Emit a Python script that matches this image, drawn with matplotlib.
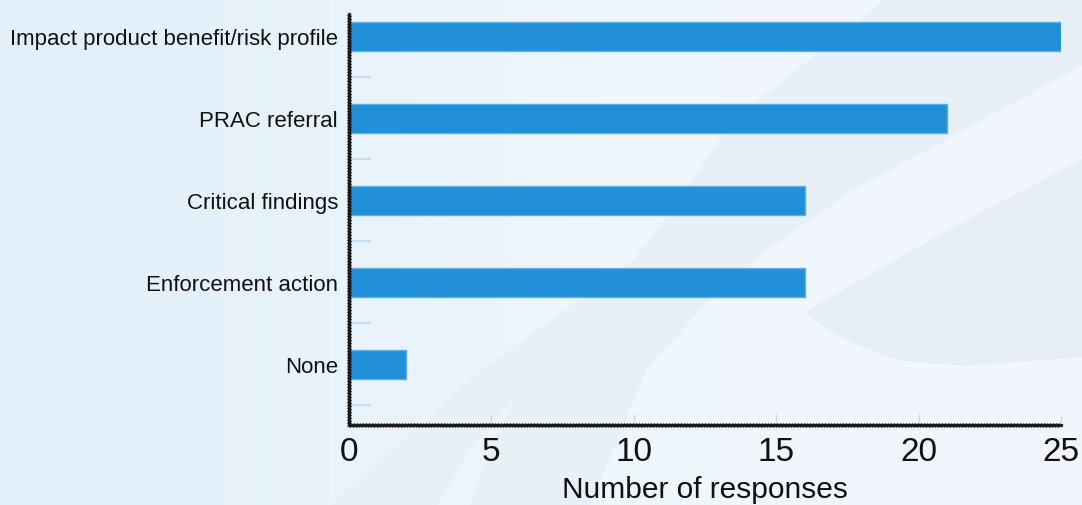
import numpy as np
import matplotlib
matplotlib.use("Agg")
import matplotlib.pyplot as plt
from matplotlib.patches import Polygon
from matplotlib.colors import to_rgb

plt.rcParams['font.family'] = ['Liberation Sans', 'DejaVu Sans']

# 数据
categories = ["Impact product benefit/risk profile", "PRAC referral",
              "Critical findings", "Enforcement action", "None"]
responses = [25, 21, 16, 16, 2]
x_ticks = [0, 5, 10, 15, 20, 25]

W, H = 1082, 506
fig = plt.figure(figsize=(W / 100, H / 100), dpi=100)

# 背景：浅蓝渐变 + 几道弧形色块
bg = fig.add_axes([0, 0, 1, 1], zorder=-10)
bg.set_xlim(0, W)
bg.set_ylim(H, 0)
bg.axis('off')
stops_x = [0, 330, 600, W]
stops_c = [to_rgb(c) for c in ["#e2eff9", "#e8f3fb", "#eff6fc", "#f3f7fc"]]
cols = np.arange(W)
grad = np.stack([np.interp(cols, stops_x, [c[i] for c in stops_c]) for i in range(3)], axis=-1)
bg.imshow(np.repeat(grad[None, :, :], 2, axis=0), extent=[0, W, H, 0], aspect='auto', zorder=0)

band = [(331, 506), (414, 433), (470, 380), (633, 262), (680, 200), (720, 140),
        (753, 105), (857, 23), (885, 0), (W, 0), (W, 67), (850, 193), (750, 263),
        (710, 300), (647, 370), (590, 506)]
bg.add_patch(Polygon(band, closed=True, fc="#e7eff7", ec='none', zorder=1))
streak = [(438, 506), (470, 450), (517, 396), (492, 445), (470, 506)]
bg.add_patch(Polygon(streak, closed=True, fc="#edf4fb", ec='none', zorder=2))
crescent = [(805, 313), (850, 287), (950, 230), (W, 160), (W, 358), (1030, 362),
            (966, 367), (900, 362), (860, 347), (830, 333)]
bg.add_patch(Polygon(crescent, closed=True, fc="#e8eef5", ec='none', zorder=1))

# 主图
ax = fig.add_axes([349 / W, 80 / H, 712 / W, 411 / H])
ax.patch.set_alpha(0)
ypos = np.arange(len(categories))[::-1]
ax.barh(ypos, responses, height=0.35, color="#2290d8", edgecolor="#5cb0ea", linewidth=1, zorder=3)

ax.set_xlim(0, 25)
ax.set_ylim(-0.74, 4.27)
ax.set_yticks(ypos)
ax.set_yticklabels(categories, fontsize=16, color="#111111")
ax.set_yticks(np.arange(-0.5, 4, 1.0), minor=True)
ax.tick_params(axis='y', which='major', length=0, pad=8)
ax.tick_params(axis='y', which='minor', direction='in', length=16, width=1.5, color="#c6def2")
ax.set_xticks(x_ticks)
ax.tick_params(axis='x', which='major', direction='in', length=8, width=1, color="#c6def2",
               labelsize=24, pad=8, labelcolor="#111111")
ax.set_xlabel("Number of responses", fontsize=21.5, color="#111111", labelpad=6)

for side in ('top', 'right'):
    ax.spines[side].set_visible(False)
for side in ('left', 'bottom'):
    sp = ax.spines[side]
    sp.set_color("#1a1a1a")
    sp.set_linewidth(2.2)
    sp.set_sketch_params(scale=0.6, length=3, randomness=1)
    sp.set_zorder(5)

fig.savefig("out.png", dpi=100)
